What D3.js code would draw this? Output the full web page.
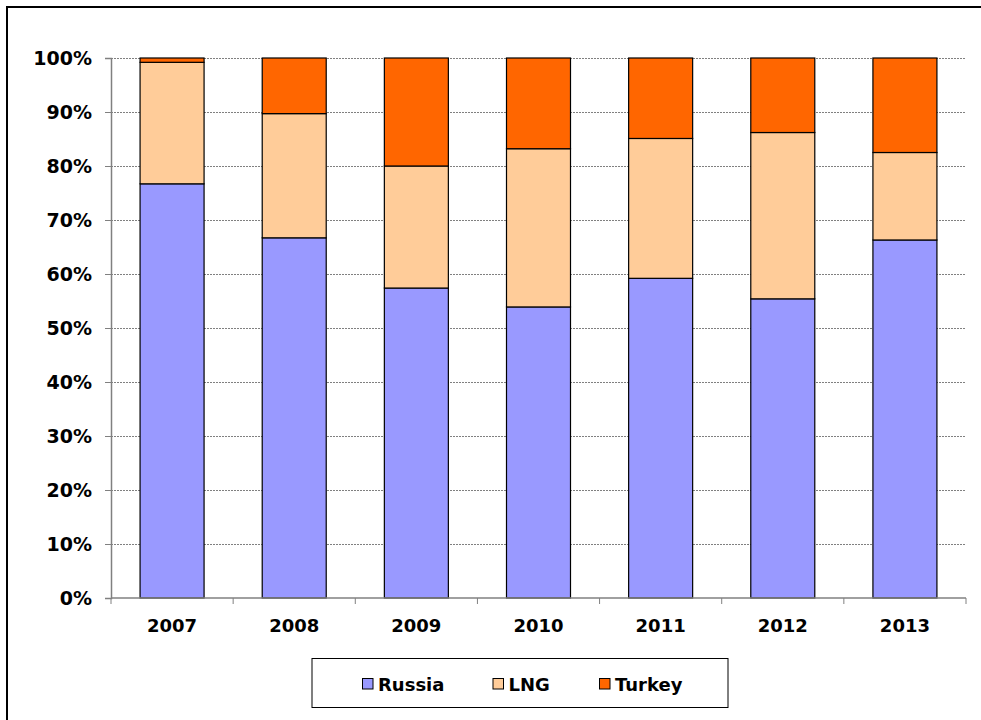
<!DOCTYPE html>
<html>
<head>
<meta charset="utf-8">
<script src="https://cdn.jsdelivr.net/npm/d3@7"></script>
<style>
  html, body { margin: 0; padding: 0; background: #fff; }
  svg { display: block; }
</style>
</head>
<body>
<svg id="chart" width="981" height="720"></svg>
<script>
// Share of gas supply by source, per year (percent)
const years = ["2007", "2008", "2009", "2010", "2011", "2012", "2013"];
const russia = [76.7, 66.7, 57.4, 53.9, 59.2, 55.4, 66.3];
const lng    = [22.5, 23.0, 22.6, 29.3, 25.9, 30.8, 16.2];
const turkey = [0.8, 10.3, 20.0, 16.8, 14.9, 13.8, 17.5];
const seriesNames = ["Russia", "LNG", "Turkey"];
const seriesColors = ["#9999FF", "#FFCC99", "#FF6600"];
const yTicks = [0, 10, 20, 30, 40, 50, 60, 70, 80, 90, 100];

const rows = years.map((y, i) => ({ year: y, Russia: russia[i], LNG: lng[i], Turkey: turkey[i] }));
const stacked = d3.stack().keys(seriesNames)(rows);

const svg = d3.select("#chart");
const font = "'DejaVu Sans', Verdana, sans-serif";

// Outer frame
svg.append("rect")
  .attr("x", 7).attr("y", 7)
  .attr("width", 1000).attr("height", 760)
  .attr("fill", "none").attr("stroke", "#000").attr("stroke-width", 2);

const plot = { left: 111, right: 966, top: 58, bottom: 598 };

const x = d3.scaleBand().domain(years).range([plot.left, plot.right]).paddingInner(0.476).paddingOuter(0.238);
const y = d3.scaleLinear().domain([0, 100]).range([plot.bottom, plot.top]);

// Gridlines
svg.append("g")
  .selectAll("line")
  .data(yTicks.filter(t => t > 0))
  .join("line")
  .attr("x1", plot.left).attr("x2", plot.right)
  .attr("y1", d => y(d) + 0.5).attr("y2", d => y(d) + 0.5)
  .attr("stroke", "#808080")
  .attr("stroke-width", 1)
  .attr("stroke-dasharray", "2,1");

// Stacked bars
svg.append("g")
  .selectAll("g")
  .data(stacked)
  .join("g")
  .attr("fill", (d, i) => seriesColors[i])
  .selectAll("rect")
  .data(d => d)
  .join("rect")
  .attr("x", d => x(d.data.year))
  .attr("width", x.bandwidth())
  .attr("y", d => y(d[1]))
  .attr("height", d => y(d[0]) - y(d[1]))
  .attr("stroke", "#000")
  .attr("stroke-width", 1.2);

// Y axis
const yAxis = svg.append("g")
  .attr("transform", `translate(${plot.left},0)`)
  .call(d3.axisLeft(y).tickValues(yTicks).tickFormat(d => d + "%").tickSize(6).tickPadding(13));
yAxis.select(".domain").attr("stroke", "#808080").attr("stroke-width", 1.5);
yAxis.selectAll(".tick line").attr("stroke", "#808080");
yAxis.selectAll("text")
  .attr("font-family", font).attr("font-weight", "bold").attr("font-size", "19px").attr("fill", "#000");

// X axis with ticks on category boundaries
const xAxisG = svg.append("g").attr("transform", `translate(0,${plot.bottom})`);
xAxisG.append("line")
  .attr("x1", plot.left).attr("x2", plot.right)
  .attr("y1", 0).attr("y2", 0)
  .attr("stroke", "#808080").attr("stroke-width", 1.5);
const step = x.step();
xAxisG.selectAll("line.tick")
  .data(d3.range(years.length + 1))
  .join("line")
  .attr("class", "tick")
  .attr("x1", i => plot.left + i * step).attr("x2", i => plot.left + i * step)
  .attr("y1", 0).attr("y2", 6)
  .attr("stroke", "#808080");
xAxisG.selectAll("text")
  .data(years)
  .join("text")
  .attr("x", d => x(d) + x.bandwidth() / 2)
  .attr("y", 34)
  .attr("text-anchor", "middle")
  .attr("font-family", font).attr("font-weight", "bold").attr("font-size", "18px")
  .text(d => d);

// Legend
const legend = svg.append("g");
legend.append("rect")
  .attr("x", 312).attr("y", 658.5)
  .attr("width", 416).attr("height", 49)
  .attr("fill", "#fff").attr("stroke", "#000").attr("stroke-width", 1);
const legendX = [362, 492.5, 599];
const items = legend.selectAll("g.item")
  .data(seriesNames)
  .join("g")
  .attr("class", "item")
  .attr("transform", (d, i) => `translate(${legendX[i]},678)`);
items.append("rect")
  .attr("x", 0.5).attr("y", 0.5)
  .attr("width", 10.5).attr("height", 10.5)
  .attr("fill", (d, i) => seriesColors[i])
  .attr("stroke", "#000").attr("stroke-width", 1);
items.append("text")
  .attr("x", 16).attr("y", 13)
  .attr("font-family", font).attr("font-weight", "bold").attr("font-size", "18px")
  .text(d => d);
</script>
</body>
</html>
